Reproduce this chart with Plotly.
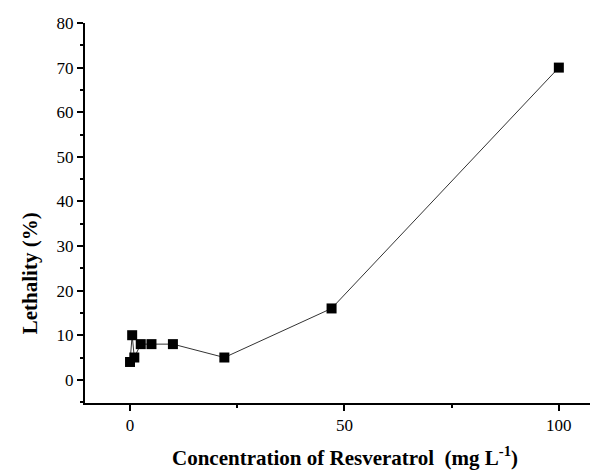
import plotly.graph_objects as go

concentration = [0, 0.5, 1, 2.5, 5, 10, 22, 47, 100]
lethality = [4, 10, 5, 8, 8, 8, 5, 16, 70]

x_ticks = [0, 50, 100]
y_ticks = [0, 10, 20, 30, 40, 50, 60, 70, 80]

FONT = "Liberation Serif, Times New Roman, serif"

fig = go.Figure()
fig.add_trace(go.Scatter(
    x=concentration, y=lethality, mode="lines+markers",
    line=dict(color="#333333", width=1),
    marker=dict(symbol="square", size=10, color="black"),
    showlegend=False, cliponaxis=False,
))

fig.update_layout(
    width=590, height=462,
    margin=dict(l=77, r=1, t=15, b=67),
    paper_bgcolor="white", plot_bgcolor="white",
    font=dict(family=FONT, size=17, color="black"),
    xaxis=dict(
        range=[-10.5, 108.9], tickvals=x_ticks, ticktext=[str(v) for v in x_ticks],
        showgrid=False, zeroline=False, showline=True, linecolor="black", linewidth=2,
        ticks="outside", ticklen=6, tickwidth=1.5, tickcolor="black",
        minor=dict(tickvals=[25, 75], ticks="outside", ticklen=3, tickwidth=1.5, tickcolor="black"),
        tickfont=dict(family=FONT, size=17),
    ),
    yaxis=dict(
        range=[-5.2, 80], tickvals=y_ticks, ticktext=[str(v) for v in y_ticks],
        showgrid=False, zeroline=False, showline=True, linecolor="black", linewidth=2,
        ticks="outside", ticklen=6, tickwidth=1.5, tickcolor="black",
        minor=dict(dtick=5, tick0=0, ticks="outside", ticklen=3, tickwidth=1.5, tickcolor="black"),
        tickfont=dict(family=FONT, size=17),
    ),
    annotations=[
        dict(text="<b>Concentration of Resveratrol  (mg L<sup>-1</sup>)</b>",
             xref="paper", yref="paper", x=0.507, y=-0.14, xanchor="center", yanchor="middle",
             showarrow=False, font=dict(family=FONT, size=21)),
        dict(text="<b>Lethality (%)</b>", textangle=-90,
             xref="paper", yref="paper", x=-0.107, y=0.342, xanchor="center", yanchor="middle",
             showarrow=False, font=dict(family=FONT, size=21)),
    ],
)

fig.write_html("out.html")
